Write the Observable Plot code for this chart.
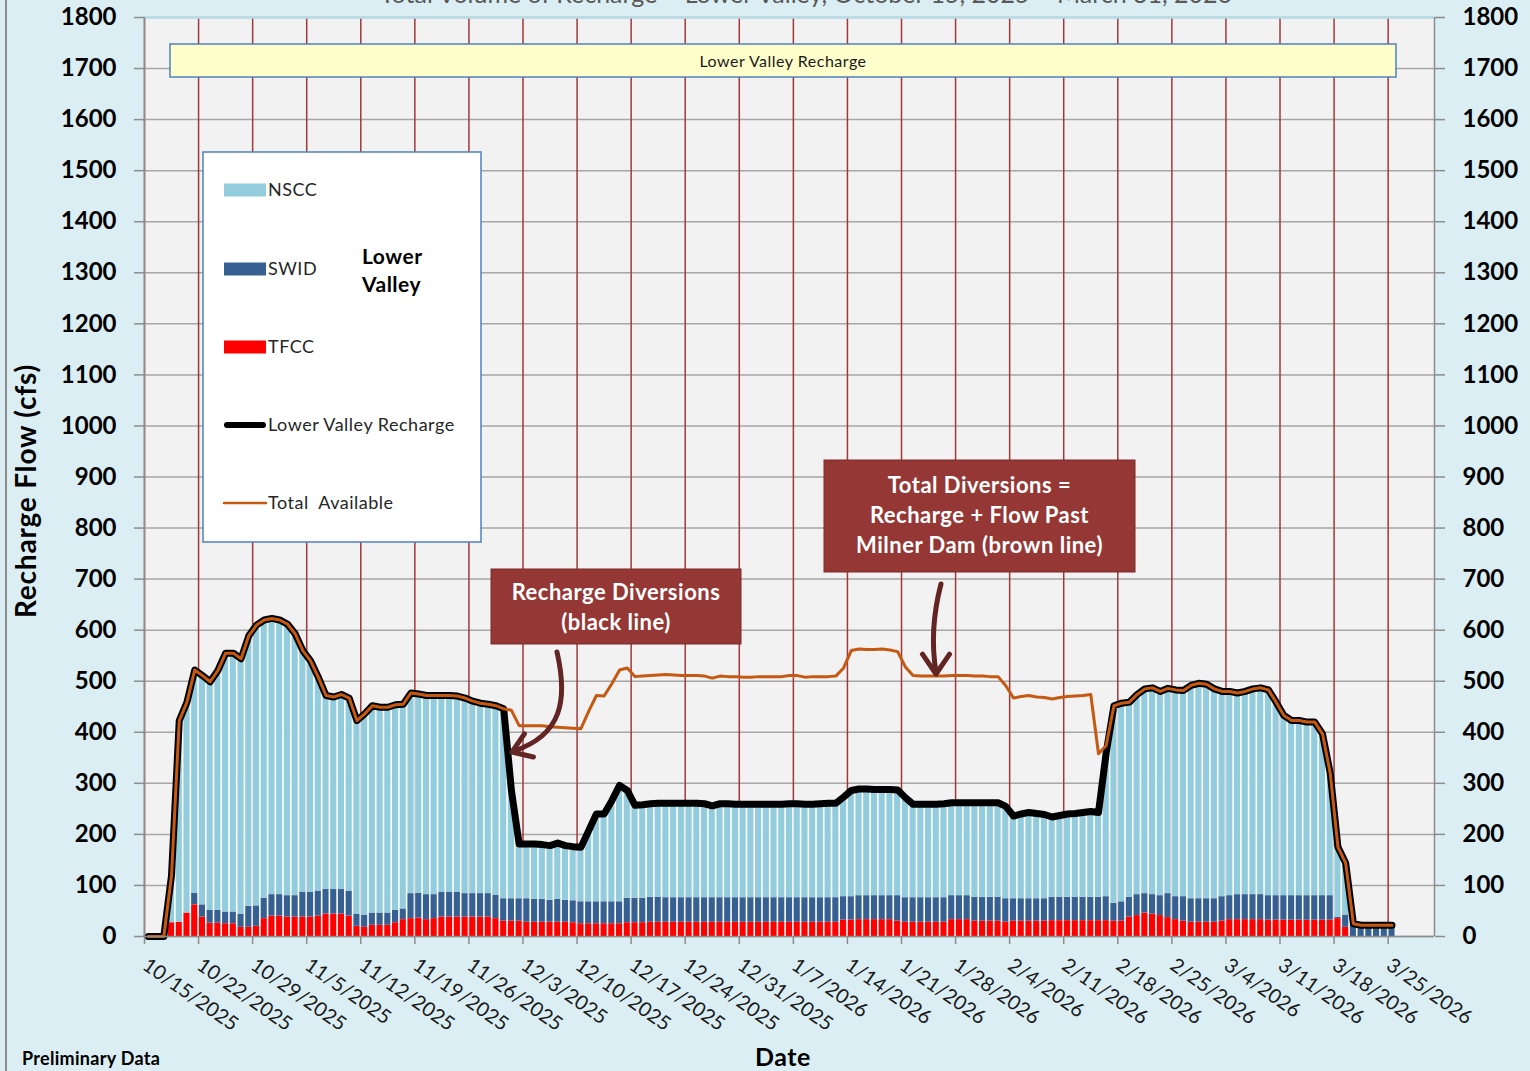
<!DOCTYPE html>
<html><head><meta charset="utf-8">
<script src="https://cdn.jsdelivr.net/npm/d3@7"></script>
<script src="https://cdn.jsdelivr.net/npm/@observablehq/plot@0.6"></script>
<style>
html,body{margin:0;padding:0;background:#dbeef4;}
#chart{position:relative;width:1530px;height:1071px;overflow:hidden;background:#dbeef4;}
svg text{font-family:Lato, sans-serif;}
</style></head><body><div id="chart"></div>
<script>
// ---------- data (daily, starting 10/15/2025) ----------
const startDate = "2025-10-15";
const endDate = "2026-03-31";
const seriesNames = ["TFCC", "SWID", "NSCC"];
const seriesColors = ["#ff0000", "#376092", "#93cddd"];

const recharge = [
  0,0,0,120,423,459,522,511,499,521,
  555,555,544,589,610,620,623,620,612,593,
  560,540,508,472,469,474,467,423,436,452,
  449,449,454,455,477,475,472,472,472,472,
  471,467,461,457,455,452,446,286,181,181,
  181,180,178,183,178,176,175,207,240,240,
  266,296,286,257,258,260,261,261,261,261,
  261,261,260,256,260,260,259,259,259,259,
  259,259,259,260,260,259,259,260,261,261,
  273,286,289,289,288,288,288,287,272,259,
  259,259,259,260,262,262,262,262,262,262,
  262,255,236,240,243,241,239,234,237,240,
  241,243,245,243,360,452,457,459,474,485,
  487,480,486,483,482,492,496,494,485,480,
  480,477,480,485,487,483,459,433,423,423,
  420,420,397,320,175,144,25,22,22,22,
  22,22];

const available = [
  0,0,0,120,423,459,522,511,499,521,
  555,555,544,589,610,620,623,620,612,593,
  560,540,508,472,469,474,467,423,436,452,
  449,449,454,455,477,475,472,472,472,472,
  471,467,461,457,455,452,446,443,413,413,
  413,413,411,410,409,408,407,441,472,471,
  495,522,526,509,510,511,512,513,512,511,
  511,511,510,506,510,509,509,508,508,509,
  509,509,509,511,511,508,509,509,509,510,
  526,560,563,562,562,563,561,558,528,511,
  510,510,510,510,511,511,511,510,510,509,
  509,491,467,470,472,469,468,465,468,470,
  471,472,474,358,374,452,457,459,474,485,
  487,480,486,483,482,492,496,494,485,480,
  480,477,480,485,487,483,459,433,423,423,
  420,420,397,320,175,144,25,22,22,22,
  22,22];

const tfcc = [
  0,0,0,27,28,46,62,38,26,26,
  25,25,18,18,20,35,40,40,38,38,
  38,38,40,44,44,44,40,20,18,22,
  22,22,27,33,35,36,33,35,38,38,
  38,38,38,38,38,35,30,30,30,28,
  28,28,28,28,28,27,25,25,25,25,
  25,25,27,27,27,28,28,28,28,28,
  28,28,28,28,28,28,28,28,28,28,
  28,28,28,28,28,28,28,28,28,28,
  32,32,33,33,33,33,33,30,28,28,
  28,28,28,28,33,33,33,30,30,30,
  30,28,30,30,30,30,30,31,31,31,
  31,31,31,31,31,30,30,38,41,46,
  44,41,37,33,30,28,28,28,28,30,
  33,33,33,33,33,32,32,32,32,32,
  32,32,32,32,35,18,0,0,0,0,
  0,0];

const swid = [
  0,0,0,0,0,0,23,24,25,25,
  23,23,26,41,40,40,42,42,42,42,
  49,49,49,48,48,48,49,24,24,24,
  24,24,24,21,49,49,49,47,49,49,
  49,46,46,46,46,46,44,44,44,46,
  45,45,43,45,43,43,43,43,43,43,
  43,43,48,48,48,49,49,48,48,48,
  48,48,48,48,48,48,48,48,48,48,
  48,48,48,48,48,48,48,48,48,48,
  46,46,47,47,47,47,47,50,48,48,
  48,48,48,48,47,47,47,47,47,47,
  47,46,44,44,44,44,44,46,46,46,
  46,46,46,46,47,35,38,39,41,38,
  38,39,47,45,48,46,46,46,46,48,
  47,49,49,49,49,48,48,48,48,48,
  48,48,48,48,3,24,22,22,22,22,
  22,22];

const nscc = [
  0,0,0,93,395,413,437,449,448,470,
  507,507,500,530,550,545,541,538,532,513,
  473,453,419,380,377,382,378,379,394,406,
  403,403,403,401,393,390,390,390,385,385,
  384,383,377,373,371,371,372,212,107,107,
  108,107,107,110,107,106,107,139,172,172,
  198,228,211,182,183,183,184,185,185,185,
  185,185,184,180,184,184,183,183,183,183,
  183,183,183,184,184,183,183,184,185,185,
  195,208,209,209,208,208,208,207,196,183,
  183,183,183,184,182,182,182,185,185,185,
  185,181,162,166,169,167,165,157,160,163,
  164,166,168,166,282,387,389,382,392,401,
  405,400,402,405,404,418,422,420,411,402,
  400,395,398,403,405,403,379,353,343,343,
  340,340,317,240,137,102,3,0,0,0,
  0,0];

const tickLabels = ["10/15/2025","10/22/2025","10/29/2025","11/5/2025","11/12/2025","11/19/2025",
  "11/26/2025","12/3/2025","12/10/2025","12/17/2025","12/24/2025","12/31/2025","1/7/2026",
  "1/14/2026","1/21/2026","1/28/2026","2/4/2026","2/11/2026","2/18/2026","2/25/2026",
  "3/4/2026","3/11/2026","3/18/2026","3/25/2026"];
const yTicks = [0,100,200,300,400,500,600,700,800,900,1000,1100,1200,1300,1400,1500,1600,1700,1800];

// ---------- build tables ----------
const day0 = new Date(startDate + "T00:00:00Z");
const xEnd = new Date(endDate + "T00:00:00Z");
const dates = recharge.map((_, i) => d3.utcDay.offset(day0, i));
const parseMDY = s => { const [m, d, y] = s.split("/").map(Number); return new Date(Date.UTC(y, m - 1, d)); };
const tickDates = tickLabels.map(parseMDY);

const seriesValues = {TFCC: tfcc, SWID: swid, NSCC: nscc};
const stacked = seriesNames.flatMap(name => seriesValues[name].map((v, i) => ({
  date: dates[i], end: d3.utcDay.offset(dates[i], 1), series: name, value: v})));
const daily = dates.map((d, i) => ({
  date: d, end: d3.utcDay.offset(d, 1), mid: d3.utcHour.offset(d, 12),
  recharge: recharge[i], available: available[i]}));

const gray = "#8c8c8c";

const plot = Plot.plot({
  width: 1530, height: 1071,
  marginLeft: 144, marginRight: 96, marginTop: 17, marginBottom: 135,
  style: {fontFamily: "Lato, sans-serif", background: "transparent", overflow: "visible"},
  x: {type: "utc", domain: [day0, xEnd], axis: null},
  y: {domain: [0, 1800], axis: null},
  color: {domain: seriesNames, range: seriesColors},
  marks: [
    Plot.frame({fill: "#f2f2f2", stroke: "none"}),
    Plot.gridY(yTicks, {stroke: "#a6a6a6", strokeOpacity: 1, strokeWidth: 1.5}),
    Plot.ruleX(tickDates, {stroke: "#a0393a", strokeWidth: 1.5}),
    Plot.rectY(daily, {x1: "date", x2: "end", y: "recharge", fill: "white"}),
    Plot.rectY(stacked, {x1: "date", x2: "end", y: "value", fill: "series", order: seriesNames,
      insetLeft: 0.8, insetRight: 0.8}),
    Plot.line(daily, {x: "mid", y: "recharge", stroke: "#000", strokeWidth: 7,
      strokeLinejoin: "round", strokeLinecap: "round"}),
    Plot.line(daily, {x: "mid", y: "available", stroke: "#c65911", strokeWidth: 3,
      strokeLinejoin: "round", strokeLinecap: "round"}),
    Plot.ruleY([1800], {stroke: "#b7dde8", strokeWidth: 2.5}),
    Plot.ruleY([0], {stroke: gray, strokeWidth: 1.5}),
    Plot.ruleX([day0, xEnd], {stroke: gray, strokeWidth: 1.5}),
    Plot.axisY(yTicks, {anchor: "left", tickSize: 10, tickPadding: 18, fontSize: 24, fontWeight: "bold",
      tickFormat: d => String(d), color: "black", stroke: gray, strokeWidth: 1.5, label: null}),
    Plot.axisY(yTicks, {anchor: "right", tickSize: 10, tickPadding: 18, fontSize: 24, fontWeight: "bold",
      tickFormat: d => String(d), color: "black", stroke: gray, strokeWidth: 1.5, label: null}),
    Plot.axisX(tickDates, {anchor: "bottom", tickSize: 8, tickFormat: () => "", stroke: gray,
      strokeWidth: 1.5, label: null}),
    Plot.text(tickLabels, {x: parseMDY, frameAnchor: "bottom", text: d => d, rotate: 35,
      textAnchor: "start", lineAnchor: "top", dx: 5, dy: 20, fontSize: 20, fill: "#1a1a1a"})
  ]
});
document.getElementById("chart").appendChild(plot);

// ---------- annotations (pixel layout) ----------
const svg = d3.select(plot);
const g = svg.append("g").attr("text-anchor", "start");

function txt(parent, x, y, s, size, opts = {}) {
  const t = parent.append("text").attr("x", x).attr("y", y).attr("font-size", size)
    .attr("text-anchor", opts.anchor || "start").attr("fill", opts.fill || "#000")
    .style("white-space", "pre").text(s);
  if (opts.bold) t.attr("font-weight", "bold");
  if (opts.ls) t.attr("letter-spacing", opts.ls);
  if (opts.transform) t.attr("transform", opts.transform).attr("x", null).attr("y", null);
  return t;
}

// left border of the chart area
g.append("line").attr("x1", 6).attr("x2", 6).attr("y1", 0).attr("y2", 1071)
  .attr("stroke", "#8c8c8c").attr("stroke-width", 2);

// title (mostly cut off at the top, as in the source)
txt(g, 806, 3, "Total Volume of Recharge – Lower Valley, October 15, 2025 – March 31, 2026", 25,
  {anchor: "middle", fill: "#595959"});

// yellow band
g.append("rect").attr("x", 170).attr("y", 44).attr("width", 1226).attr("height", 33)
  .attr("fill", "#ffffcc").attr("stroke", "#4f81bd").attr("stroke-width", 1.5);
txt(g, 783, 67, "Lower Valley Recharge", 16, {anchor: "middle", fill: "#1a1a1a", ls: 0.5});

// axis titles
txt(g, 0, 0, "Recharge Flow (cfs)", 28, {anchor: "middle", bold: true, ls: 0.8,
  transform: "translate(36,491) rotate(-90)"});
txt(g, 783, 1066, "Date", 25, {anchor: "middle", bold: true, ls: 0.5});
txt(g, 22, 1065, "Preliminary Data", 18, {bold: true, ls: 0.3});

// legend
const lg = g.append("g");
lg.append("rect").attr("x", 203).attr("y", 152).attr("width", 278).attr("height", 390)
  .attr("fill", "white").attr("stroke", "#4f81bd").attr("stroke-width", 1.5);
const legendItems = [
  {name: "NSCC", y: 190, type: "box", color: "#93cddd"},
  {name: "SWID", y: 269, type: "box", color: "#376092"},
  {name: "TFCC", y: 347, type: "box", color: "#ff0000"},
  {name: "Lower Valley Recharge", y: 425, type: "thick", color: "#000"},
  {name: "Total  Available", y: 503, type: "thin", color: "#c65911"}
];
legendItems.forEach(it => {
  if (it.type === "box") {
    lg.append("rect").attr("x", 224).attr("y", it.y - 6.5).attr("width", 42).attr("height", 13)
      .attr("fill", it.color);
  } else {
    lg.append("line").attr("x1", it.type === "thick" ? 227 : 224).attr("x2", it.type === "thick" ? 263 : 266)
      .attr("y1", it.y).attr("y2", it.y).attr("stroke", it.color)
      .attr("stroke-width", it.type === "thick" ? 6 : 2.5).attr("stroke-linecap", "round");
  }
  txt(lg, 268, it.y + 6, it.name, 18, {fill: "#262626", ls: 0.5});
});
txt(lg, 362, 264, "Lower", 21, {bold: true, ls: 0.5});
txt(lg, 362, 292, "Valley", 21, {bold: true, ls: 0.5});

// callout boxes
function callout(x, y, w, h, lines, lineGap, firstBaseline) {
  g.append("rect").attr("x", x).attr("y", y).attr("width", w).attr("height", h)
    .attr("fill", "#953735").attr("stroke", "#7a2b29").attr("stroke-width", 1);
  lines.forEach((t, k) => txt(g, x + w / 2, firstBaseline + k * lineGap, t, 22,
    {anchor: "middle", bold: true, fill: "white", ls: 0.5}));
}
callout(491, 569, 250, 75, ["Recharge Diversions", "(black line)"], 30, 600);
callout(824, 460, 311, 112, ["Total Diversions =", "Recharge + Flow Past", "Milner Dam (brown line)"], 30, 493);

// curved arrows
function arrow(d, tip, back, len) {
  const ang = Math.atan2(back[1], back[0]);
  const a1 = ang + 0.6, a2 = ang - 0.6;
  g.append("path").attr("d", d).attr("fill", "none").attr("stroke", "#632523")
    .attr("stroke-width", 5).attr("stroke-linecap", "round");
  g.append("path").attr("d",
    `M${tip[0] + len * Math.cos(a1)},${tip[1] + len * Math.sin(a1)} L${tip[0]},${tip[1]} L${tip[0] + len * Math.cos(a2)},${tip[1] + len * Math.sin(a2)}`)
    .attr("fill", "none").attr("stroke", "#632523").attr("stroke-width", 5)
    .attr("stroke-linecap", "round").attr("stroke-linejoin", "round");
}
arrow("M557,652 C568,700 562,735 514,751", [512, 752], [36, -14], 22);
arrow("M941,584 Q929,630 936,672", [936, 674], [0, -1], 24);
</script></body></html>
